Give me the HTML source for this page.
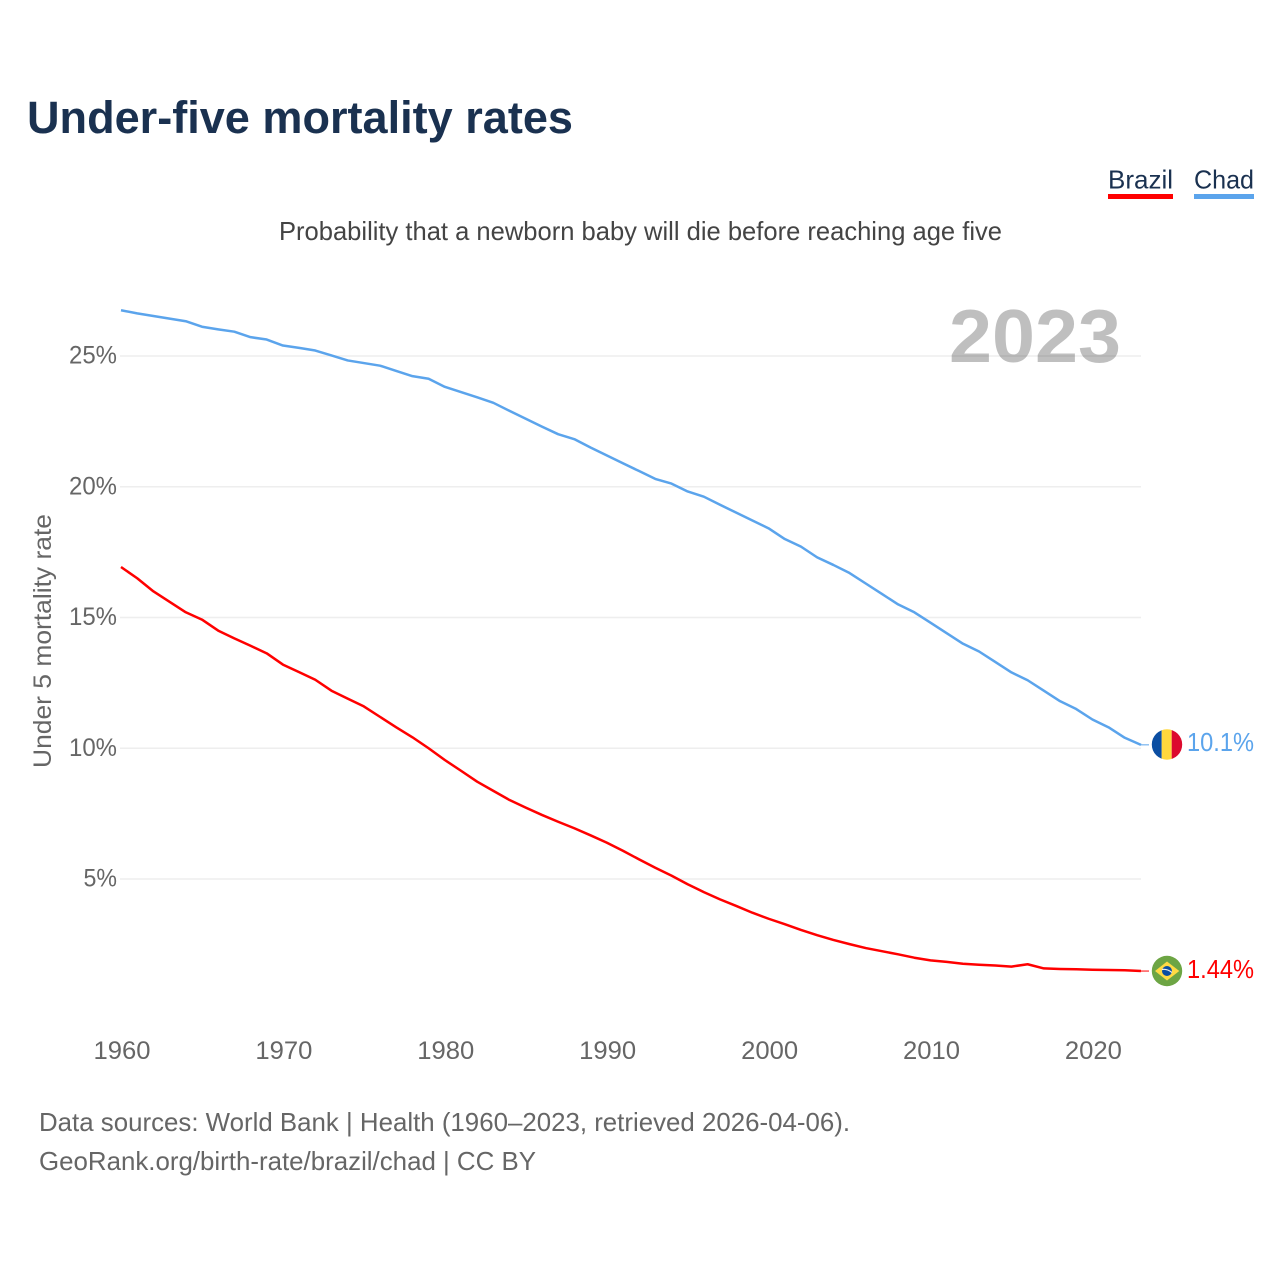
<!DOCTYPE html>
<html lang="en">
<head>
<meta charset="utf-8">
<title>Under-five mortality rates</title>
<style>
html,body{margin:0;padding:0;background:#fff;}
svg{display:block;}
text{font-family:"Liberation Sans",sans-serif;}
</style>
</head>
<body>
<svg id="chart" xmlns="http://www.w3.org/2000/svg" width="1280" height="1280" viewBox="0 0 1280 1280">
  <defs>
    <clipPath id="clip-chad"><circle cx="1167" cy="744.5" r="15.2"/></clipPath>
    <clipPath id="clip-brazil"><circle cx="1167" cy="971" r="15.2"/></clipPath>
  </defs>
  <rect width="1280" height="1280" fill="#fff"/>
  <text x="27" y="133" font-size="45" font-weight="700" fill="#1a3150" textLength="546" lengthAdjust="spacingAndGlyphs">Under-five mortality rates</text>
  <text x="1108" y="188.5" font-size="26" fill="#1a3150" textLength="65" lengthAdjust="spacingAndGlyphs">Brazil</text>
  <rect x="1108" y="194" width="65" height="5" fill="#ff0000"/>
  <text x="1194" y="188.5" font-size="26" fill="#1a3150" textLength="60" lengthAdjust="spacingAndGlyphs">Chad</text>
  <rect x="1194" y="194" width="60" height="5" fill="#5ba4ec"/>
  <text x="279" y="240" font-size="26" fill="#444" textLength="723" lengthAdjust="spacingAndGlyphs">Probability that a newborn baby will die before reaching age five</text>
  <g id="grid"></g>
  <text x="949" y="362" font-size="75" font-weight="700" fill="#000" fill-opacity="0.25" textLength="172" lengthAdjust="spacingAndGlyphs">2023</text>
  <g id="y-axis"></g>
  <g id="x-axis"></g>
  <text transform="translate(51,768) rotate(-90)" font-size="25" fill="#666" textLength="254" lengthAdjust="spacingAndGlyphs">Under 5 mortality rate</text>
  <g id="series"></g>
  <g clip-path="url(#clip-chad)">
    <rect x="1151" y="729" width="10.7" height="31" fill="#0b4ea2"/>
    <rect x="1161.7" y="729" width="10" height="31" fill="#ffd83d"/>
    <rect x="1171.7" y="729" width="11" height="31" fill="#dc0a2e"/>
  </g>
  <g clip-path="url(#clip-brazil)">
    <rect x="1151" y="955" width="32" height="32" fill="#6da544"/>
    <polygon points="1155,971 1167,961.5 1179.3,971 1167,980.5" fill="#ffda44"/>
    <circle cx="1167" cy="971" r="5" fill="#0b4ea2"/>
    <path d="M1162 969.5 Q1167 968.5 1172 972.5" stroke="#f0f0f0" stroke-width="1.2" fill="none"/>
  </g>
  <text x="1187" y="751" font-size="26" fill="#5ba4ec" textLength="67" lengthAdjust="spacingAndGlyphs">10.1%</text>
  <text x="1187" y="978" font-size="26" fill="#ff0000" textLength="67" lengthAdjust="spacingAndGlyphs">1.44%</text>
  <text x="39" y="1131" font-size="26" fill="#666" textLength="811" lengthAdjust="spacingAndGlyphs">Data sources: World Bank | Health (1960–2023, retrieved 2026-04-06).</text>
  <text x="39" y="1170" font-size="26" fill="#666" textLength="497" lengthAdjust="spacingAndGlyphs">GeoRank.org/birth-rate/brazil/chad | CC BY</text>
</svg>
<script>
const startYear = 1960;
const xTickLabels = ["1960","1970","1980","1990","2000","2010","2020"];
const yTickValues = [5,10,15,20,25];
const chadValues = [26.75,26.63,26.53,26.43,26.33,26.12,26.02,25.93,25.72,25.63,25.4,25.31,25.21,25.02,24.83,24.73,24.63,24.43,24.23,24.13,23.82,23.62,23.42,23.21,22.9,22.6,22.3,22.01,21.82,21.5,21.2,20.9,20.6,20.3,20.12,19.82,19.62,19.31,19.01,18.71,18.41,18.0,17.71,17.3,17.01,16.7,16.3,15.9,15.5,15.2,14.8,14.4,14.0,13.7,13.3,12.9,12.6,12.2,11.8,11.5,11.1,10.8,10.4,10.13];
const brazilValues = [16.93,16.5,16.0,15.6,15.2,14.92,14.5,14.2,13.92,13.63,13.2,12.91,12.62,12.2,11.9,11.6,11.2,10.8,10.42,10.0,9.55,9.14,8.72,8.37,8.02,7.73,7.45,7.19,6.94,6.67,6.39,6.08,5.75,5.43,5.13,4.8,4.5,4.22,3.97,3.71,3.48,3.27,3.05,2.85,2.67,2.51,2.36,2.24,2.12,1.99,1.89,1.83,1.76,1.72,1.69,1.65,1.74,1.58,1.56,1.55,1.53,1.52,1.51,1.48];

const NS = "http://www.w3.org/2000/svg";
function xScale(year){ return 121 + (year - 1960) * 16.19; }
function yScale(v){ return 1009.75 - v * 26.15; }
function make(tag, parent){
  const el = document.createElementNS(NS, tag);
  parent.appendChild(el);
  return el;
}

const gridGroup = document.getElementById("grid");
const yGroup = document.getElementById("y-axis");
yTickValues.forEach(function(v){
  const line = make("line", gridGroup);
  
  
  line.setAttribute("x1", 120);
  line.setAttribute("x2", 1141);
  line.setAttribute("y1", yScale(v));
  line.setAttribute("y2", yScale(v));
  line.setAttribute("stroke", "#eeeeee");
  line.setAttribute("stroke-width", "1.5");

  const label = make("text", yGroup);
  
  
  const s = v + "%";
  label.textContent = s;
  label.setAttribute("x", 117);
  label.setAttribute("y", yScale(v) + 7.7);
  label.setAttribute("text-anchor", "end");
  label.setAttribute("font-size", "25");
  label.setAttribute("fill", "#666");
  label.setAttribute("textLength", (s.length - 1) * 14.5 + 19);
  label.setAttribute("lengthAdjust", "spacingAndGlyphs");
});

const xGroup = document.getElementById("x-axis");
xTickLabels.forEach(function(s){
  const label = make("text", xGroup);
  
  
  label.textContent = s;
  label.setAttribute("x", xScale(Number(s)) + 1);
  label.setAttribute("y", 1059);
  label.setAttribute("text-anchor", "middle");
  label.setAttribute("font-size", "25");
  label.setAttribute("fill", "#666");
  label.setAttribute("textLength", "57");
  label.setAttribute("lengthAdjust", "spacingAndGlyphs");
});

function pathFor(values){
  return values.map(function(v, i){
    return (i ? "L" : "M") + xScale(startYear + i).toFixed(2) + " " + yScale(v).toFixed(2);
  }).join(" ");
}
const seriesGroup = document.getElementById("series");

const chadLine = make("path", seriesGroup);


chadLine.setAttribute("d", pathFor(chadValues));
chadLine.setAttribute("fill", "none");
chadLine.setAttribute("stroke", "#5ba4ec");
chadLine.setAttribute("stroke-width", "2.5");
chadLine.setAttribute("stroke-linejoin", "round");

const brazilLine = make("path", seriesGroup);


brazilLine.setAttribute("d", pathFor(brazilValues));
brazilLine.setAttribute("fill", "none");
brazilLine.setAttribute("stroke", "#ff0000");
brazilLine.setAttribute("stroke-width", "2.5");
brazilLine.setAttribute("stroke-linejoin", "round");

const chadConnector = make("line", seriesGroup);


const chadEndY = yScale(chadValues[chadValues.length - 1]);
chadConnector.setAttribute("x1", xScale(2023));
chadConnector.setAttribute("x2", 1149);
chadConnector.setAttribute("y1", chadEndY);
chadConnector.setAttribute("y2", chadEndY);
chadConnector.setAttribute("stroke", "#5ba4ec");
chadConnector.setAttribute("stroke-width", "1");

const brazilConnector = make("line", seriesGroup);


const brazilEndY = yScale(brazilValues[brazilValues.length - 1]);
brazilConnector.setAttribute("x1", xScale(2023));
brazilConnector.setAttribute("x2", 1149);
brazilConnector.setAttribute("y1", brazilEndY);
brazilConnector.setAttribute("y2", brazilEndY);
brazilConnector.setAttribute("stroke", "#ff0000");
brazilConnector.setAttribute("stroke-width", "1");
</script>
</body>
</html>
